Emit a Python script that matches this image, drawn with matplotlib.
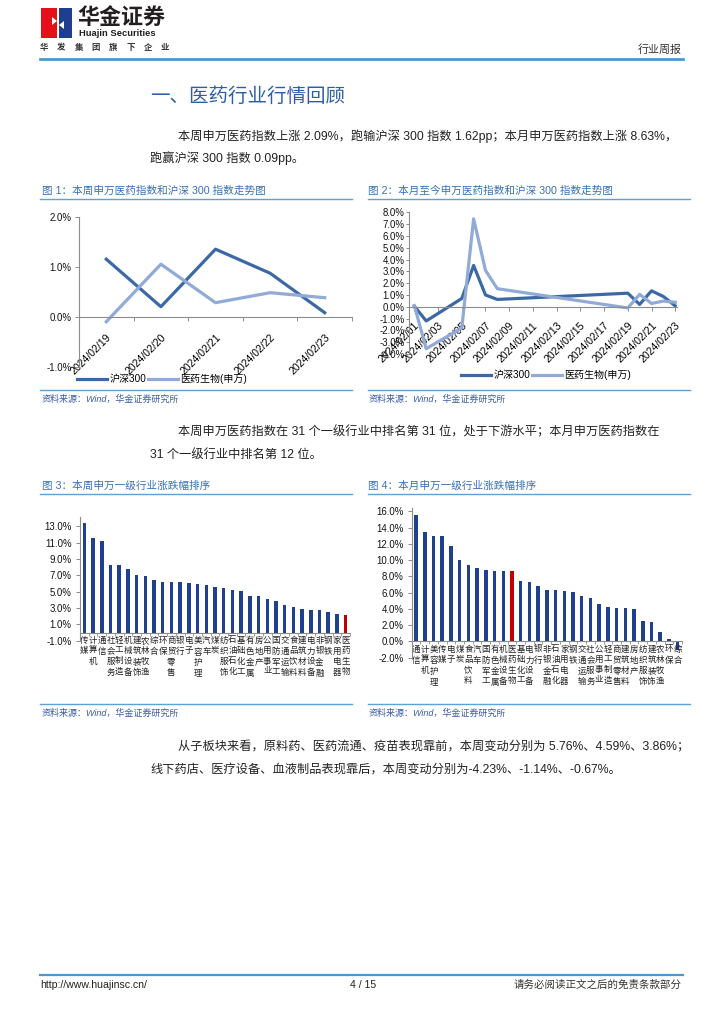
import matplotlib
matplotlib.use('Agg')
import matplotlib.pyplot as plt
from matplotlib.patches import Rectangle, Polygon
from matplotlib.lines import Line2D

W, H = 724, 1024
FONT = ['Liberation Sans', 'Noto Sans CJK SC']
plt.rcParams['font.family'] = FONT
plt.rcParams['axes.unicode_minus'] = False

# ---- data ----
week_dates = ['2024/02/19', '2024/02/20', '2024/02/21', '2024/02/22', '2024/02/23']
week_hs300 = [1.15, 0.20, 1.35, 0.87, 0.08]
week_pharma = [-0.10, 1.05, 0.28, 0.48, 0.38]

month_days = [1, 2, 5, 6, 7, 8, 19, 20, 21, 22, 23]
month_hs300 = [0.05, -1.20, 0.70, 3.50, 1.00, 0.62, 1.15, 0.20, 1.35, 0.87, 0.08]
month_pharma = [0.10, -3.55, -1.80, 7.45, 3.08, 1.53, -0.10, 1.05, 0.28, 0.48, 0.38]
month_tick_days = [1, 3, 5, 7, 9, 11, 13, 15, 17, 19, 21, 23]
month_tick_labels = ['2024/02/01', '2024/02/03', '2024/02/05', '2024/02/07',
                     '2024/02/09', '2024/02/11', '2024/02/13', '2024/02/15',
                     '2024/02/17', '2024/02/19', '2024/02/21', '2024/02/23']

week_ind = ['传媒', '计算机', '通信', '社会服务', '轻工制造', '机械设备', '建筑装饰',
            '农林牧渔', '综合', '环保', '商贸零售', '银行', '电子', '美容护理', '汽车',
            '煤炭', '纺织服饰', '石油石化', '基础化工', '有色金属', '房地产', '公用事业',
            '国防军工', '交通运输', '食品饮料', '建筑材料', '电力设备', '非银金融',
            '钢铁', '家用电器', '医药生物']
week_ind_chg = [13.45, 11.63, 11.26, 8.29, 8.25, 7.85, 7.07, 6.95, 6.46, 6.22, 6.22,
                6.18, 6.10, 5.98, 5.85, 5.61, 5.49, 5.20, 5.04, 4.51, 4.43, 4.15, 3.90,
                3.33, 3.17, 2.93, 2.80, 2.76, 2.56, 2.32, 2.09]

month_ind = ['通信', '计算机', '美容护理', '传媒', '电子', '煤炭', '食品饮料', '汽车',
             '国防军工', '有色金属', '机械设备', '医药生物', '基础化工', '电力设备', '银行',
             '非银金融', '石油石化', '家用电器', '钢铁', '交通运输', '社会服务', '公用事业',
             '轻工制造', '商贸零售', '建筑材料', '房地产', '纺织服饰', '建筑装饰',
             '农林牧渔', '环保', '综合']
month_ind_chg = [15.50, 13.50, 12.90, 12.90, 11.70, 9.96, 9.34, 9.05, 8.80, 8.68, 8.68,
                 8.63, 7.37, 7.28, 6.83, 6.34, 6.30, 6.20, 6.13, 5.56, 5.35, 4.65, 4.24,
                 4.12, 4.12, 3.99, 2.55, 2.35, 1.15, 0.30, -1.07]

# ---- colours ----
DARK = '#3c69a6'
LIGHT = '#91aad6'
BAR = '#1f3f8f'
RED = '#c00000'
TITLE_BLUE = '#3470b8'
RULE = '#5aa2d8'
AXIS = '#8c8c8c'

fig = plt.figure(figsize=(W / 100, H / 100), dpi=100)


def box(x0, y0, x1, y1):
    return [x0 / W, 1 - y1 / H, (x1 - x0) / W, (y1 - y0) / H]


def ftext(x, y, s, px, **kw):
    kw.setdefault('va', 'center')
    fig.text(x / W, 1 - y / H, s, fontsize=px * 0.72, **kw)


def hline(x0, x1, y, color=RULE, lw=1.0):
    fig.add_artist(Line2D([x0 / W, x1 / W], [1 - y / H, 1 - y / H],
                          color=color, lw=lw, transform=fig.transFigure))


def rect(x0, y0, x1, y1, color):
    fig.add_artist(Rectangle((x0 / W, 1 - y1 / H), (x1 - x0) / W, (y1 - y0) / H,
                             transform=fig.transFigure, color=color, lw=0))


# ---- page header ----
rect(41, 8, 57, 38, '#e4101b')
rect(59, 8, 72, 38, '#1e3f90')
fig.add_artist(Polygon([(52 / W, 1 - 17 / H), (57 / W, 1 - 21 / H), (52 / W, 1 - 25 / H)],
                       closed=True, transform=fig.transFigure, color='white', lw=0))
fig.add_artist(Polygon([(64 / W, 1 - 21 / H), (59 / W, 1 - 25 / H), (64 / W, 1 - 29 / H)],
                       closed=True, transform=fig.transFigure, color='white', lw=0))
ftext(77, 19, '华金证券', 22, fontweight='bold', color='#231f20')
ftext(79, 34, 'Huajin Securities', 9.4, fontweight='bold', color='#231f20')
for i, ch in enumerate('华发集团旗下企业'):
    ftext(44 + i * 17.3, 48, ch, 8.4, ha='center', color='#333333', fontweight='bold')
ftext(682, 50, '行业周报', 11, ha='right', color='#333333')
hline(40, 683, 59, color='#4a98d2', lw=2.0)

ftext(150, 97, '一、医药行业行情回顾', 19.5, color='#2d5ea8')

BODY = 12.2
ftext(178, 136, '本周申万医药指数上涨 2.09%，跑输沪深 300 指数 1.62pp；本月申万医药指数上涨 8.63%，',
      BODY, color='#222222')
ftext(150, 158, '跑赢沪深 300 指数 0.09pp。', BODY, color='#222222')
ftext(178, 432, '本周申万医药指数在 31 个一级行业中排名第 31 位，处于下游水平；本月申万医药指数在',
      BODY, color='#222222')
ftext(150, 455, '31 个一级行业中排名第 12 位。', BODY, color='#222222')
ftext(178, 747, '从子板块来看，原料药、医药流通、疫苗表现靠前，本周变动分别为 5.76%、4.59%、3.86%；',
      BODY, color='#222222')
ftext(150, 770, '线下药店、医疗设备、血液制品表现靠后，本周变动分别为-4.23%、-1.14%、-0.67%。',
      BODY, color='#222222')

# figure titles, rules and sources
TITLE_PX = 10.6
ftext(42, 191, '图 1：本周申万医药指数和沪深 300 指数走势图', TITLE_PX, color=TITLE_BLUE)
ftext(368, 191, '图 2：本月至今申万医药指数和沪深 300 指数走势图', TITLE_PX, color=TITLE_BLUE)
ftext(42, 486, '图 3：本周申万一级行业涨跌幅排序', TITLE_PX, color=TITLE_BLUE)
ftext(368, 486, '图 4：本月申万一级行业涨跌幅排序', TITLE_PX, color=TITLE_BLUE)
for y in (199, 494):
    hline(40, 352, y)
    hline(368, 690, y)
for y in (390, 704):
    hline(40, 352, y)
    hline(368, 690, y)
    ftext(42, y + 9.5, '资料来源：Wind，华金证券研究所', 9, color='#3a5ba8', style='italic')
    ftext(369, y + 9.5, '资料来源：Wind，华金证券研究所', 9, color='#3a5ba8', style='italic')

# footer
hline(40, 683, 975, color='#4a98d2', lw=1.6)
ftext(40, 985, 'http://www.huajinsc.cn/', 10.5, color='#222222')
ftext(363, 985, '4 / 15', 10.5, ha='center', color='#222222')
ftext(682, 985, '请务必阅读正文之后的免责条款部分', 10.5, ha='right', color='#333333')


def style_axes(ax, tick_px):
    for s in ('top', 'right'):
        ax.spines[s].set_visible(False)
    for s in ('left', 'bottom'):
        ax.spines[s].set_color(AXIS)
        ax.spines[s].set_linewidth(0.8)
    ax.spines['bottom'].set_position(('data', 0))
    ax.patch.set_alpha(0)
    ax.tick_params(axis='y', direction='out', length=3, width=0.7, color=AXIS,
                   labelsize=tick_px * 0.72, pad=2.5, labelcolor='#111111')
    ax.yaxis.set_major_formatter(plt.FuncFormatter(lambda v, p: f'{v:.1f}%'))


def legend(ax, x, y):
    ax.legend(loc='center', bbox_to_anchor=(x / W, 1 - y / H), bbox_transform=fig.transFigure,
              ncol=2, frameon=False, fontsize=7.2, handlelength=3.0, handletextpad=0.2,
              columnspacing=0.2, borderpad=0)


# ---- chart 1 ----
ax1 = fig.add_axes(box(79, 216.7, 352, 366.7))
xs = range(len(week_dates))
ax1.plot(xs, week_hs300, color=DARK, lw=2.3, label='沪深300')
ax1.plot(xs, week_pharma, color=LIGHT, lw=2.3, label='医药生物(申万)')
ax1.set_xlim(-0.5, len(week_dates) - 0.5)
ax1.set_ylim(-1, 2)
ax1.set_yticks([-1, 0, 1, 2])
style_axes(ax1, 9.6)
ax1.set_xticks(list(xs))
ax1.set_xticklabels(week_dates, rotation=45, ha='right', va='top', rotation_mode='anchor',
                    fontsize=7.6)
ax1.set_xticks([i - 0.5 for i in range(len(week_dates) + 1)], minor=True)
ax1.tick_params(axis='x', which='major', length=0, pad=11)
ax1.tick_params(axis='x', which='minor', length=3, width=0.7, color=AXIS)
legend(ax1, 162, 379)

# ---- chart 2 ----
ax2 = fig.add_axes(box(409, 212.3, 677, 354))
ax2.plot(month_days, month_hs300, color=DARK, lw=2.3, label='沪深300')
ax2.plot(month_days, month_pharma, color=LIGHT, lw=2.3, label='医药生物(申万)')
ax2.set_xlim(0.55, 23.15)
ax2.set_ylim(-4, 8)
ax2.set_yticks(range(-4, 9))
style_axes(ax2, 9.6)
ax2.tick_params(axis='y', length=2, pad=1.2)
ax2.set_xticks(month_tick_days)
ax2.set_xticklabels(month_tick_labels, rotation=45, ha='right', va='top',
                    rotation_mode='anchor', fontsize=7.6)
ax2.tick_params(axis='x', which='major', length=3, width=0.7, color=AXIS, pad=7)
legend(ax2, 546, 375)


# ---- bar charts ----
def bar_panel(ax, names, vals, ylim, yticks):
    xs = range(len(names))
    colors = [RED if n == '医药生物' else BAR for n in names]
    ax.bar(xs, vals, width=0.4, color=colors, edgecolor='none')
    ax.set_xlim(-0.5, len(names) - 0.5)
    ax.set_ylim(*ylim)
    ax.set_yticks(yticks)
    style_axes(ax, 9.6)
    ax.tick_params(axis='y', pad=3)
    ax.set_xticks(list(xs))
    ax.set_xticklabels(['\n'.join(n) for n in names], fontsize=6.1, linespacing=1.45,
                       va='top', color='#222222')
    ax.set_xticks([i - 0.5 for i in range(len(names) + 1)], minor=True)
    ax.tick_params(axis='x', which='major', length=0, pad=3.0)
    ax.tick_params(axis='x', which='minor', length=2.5, width=0.6, color=AXIS)


ax3 = fig.add_axes(box(80, 516.7, 350, 640.7))
bar_panel(ax3, week_ind, week_ind_chg, (-1, 14.2), range(-1, 14, 2))

ax4 = fig.add_axes(box(411.7, 508, 682, 657.7))
bar_panel(ax4, month_ind, month_ind_chg, (-2, 16.4), range(-2, 17, 2))

fig.savefig('out.png', dpi=100)
